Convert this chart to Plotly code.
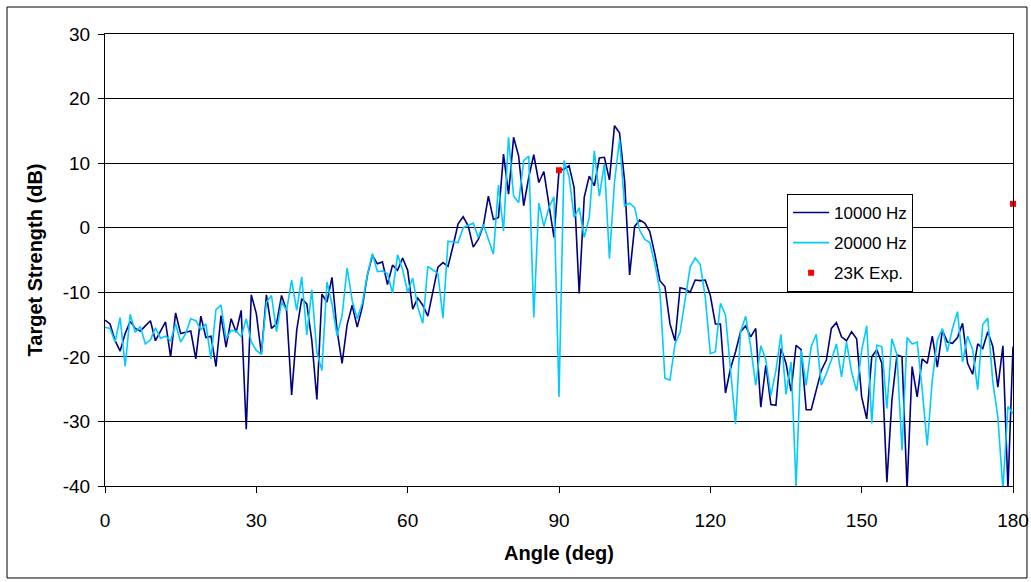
import plotly.graph_objects as go

angles = list(range(0, 181))

ts_10000 = [
    -14.3, -14.9, -17.5, -19.1, -16.4, -14.5, -15.6, -16.0, -15.2, -14.4,
    -17.5, -16.0, -14.6, -20.0, -13.2, -16.4, -16.2, -16.0, -20.3, -13.7,
    -17.0, -16.8, -21.5, -13.6, -18.5, -14.1, -16.2, -12.8, -31.2, -10.4,
    -13.3, -19.6, -10.4, -15.6, -14.9, -10.5, -12.8, -25.9, -15.9, -11.0,
    -11.8, -17.5, -26.6, -10.3, -11.5, -7.7, -15.9, -21.0, -15.0, -12.0,
    -15.4, -12.3, -7.4, -4.3, -5.6, -5.3, -8.8, -5.8, -6.6, -4.7,
    -6.6, -12.6, -10.9, -12.0, -13.7, -10.0, -6.1, -5.4, -6.0, -2.8,
    0.6, 1.7, 0.3, -3.0, -1.8, 0.3, 4.9, 1.3, 1.6, 11.4,
    5.2, 14.0, 11.1, 3.4, 7.8, 11.3, 7.0, 8.7, 3.9, -1.5,
    8.8, 9.1, 9.6, 6.2, -10.2, 4.7, 8.0, 6.5, 10.8, 10.9,
    7.4, 15.8, 14.7, 7.3, -7.3, 0.2, 1.2, 0.7, -0.6, -4.1,
    -8.2, -9.1, -14.9, -17.5, -9.3, -9.5, -10.0, -8.1, -8.2, -8.1,
    -10.5, -14.9, -14.9, -25.6, -21.8, -19.2, -16.1, -15.2, -16.9, -15.6,
    -27.8, -21.3, -27.4, -27.5, -18.7, -21.0, -25.3, -18.2, -18.9, -28.2,
    -28.2, -24.9, -22.1, -20.5, -15.6, -14.7, -16.9, -17.5, -16.1, -17.2,
    -26.2, -29.6, -20.0, -18.9, -21.0, -39.4, -26.7, -19.7, -20.0, -40.5,
    -21.5, -26.2, -20.3, -21.0, -16.8, -21.6, -15.9, -17.7, -17.9, -17.0,
    -14.8, -21.0, -22.7, -18.0, -18.7, -16.1, -18.4, -24.7, -18.3, -40.5,
    -18.4,
]

ts_20000 = [
    -15.4, -15.6, -17.7, -13.9, -21.5, -13.4, -16.2, -15.3, -18.0, -17.4,
    -15.5, -17.1, -16.8, -17.5, -14.9, -17.7, -16.4, -14.1, -14.4, -15.8,
    -14.9, -20.3, -12.7, -12.0, -17.2, -15.9, -16.0, -16.9, -14.1, -17.7,
    -19.0, -19.6, -11.5, -10.5, -16.1, -11.5, -12.8, -8.1, -12.8, -7.6,
    -16.6, -9.6, -19.3, -22.1, -8.4, -11.8, -16.7, -13.6, -6.2, -11.3,
    -14.1, -11.7, -7.4, -4.0, -6.8, -6.7, -7.1, -10.1, -4.2, -6.5,
    -10.0, -7.8, -12.3, -14.8, -6.0, -6.5, -7.1, -14.0, -2.1, -2.2,
    -2.3, 0.0, 0.3, 0.7, -1.5, 0.5, -1.8, -4.1, 6.6, -0.5,
    14.0, 4.9, 3.9, 10.4, 11.1, -13.9, 3.8, 0.2, 3.1, 4.8,
    -26.2, 10.4, 7.9, 1.6, 3.1, -1.5, 1.6, 11.9, 4.9, 9.9,
    -4.8, 7.0, 13.7, 3.4, 3.8, 3.1, -0.4, -1.8, -2.3, -5.6,
    -9.7, -23.3, -23.6, -18.0, -16.2, -11.3, -6.1, -4.7, -5.7, -10.8,
    -19.5, -19.2, -11.7, -13.5, -22.0, -30.4, -16.1, -13.7, -18.4, -24.4,
    -18.3, -20.4, -26.0, -22.1, -16.5, -25.8, -20.8, -40.0, -19.0, -24.4,
    -18.4, -16.5, -24.4, -22.6, -20.5, -18.0, -23.1, -17.7, -22.3, -25.3,
    -19.0, -15.2, -30.3, -18.2, -18.4, -28.0, -17.2, -19.7, -34.5, -17.0,
    -18.0, -17.7, -25.0, -33.7, -23.6, -17.4, -15.6, -19.2, -15.6, -13.0,
    -20.8, -16.8, -18.9, -25.1, -15.0, -14.0, -23.9, -29.3, -40.5, -27.7,
    -28.8,
]

exp_angles = [90, 180]
exp_23k = [8.9, 3.7]

y_ticks = [-40, -30, -20, -10, 0, 10, 20, 30]
x_ticks = [0, 30, 60, 90, 120, 150, 180]

FONT = "Liberation Sans, Arial, sans-serif"

fig = go.Figure()
fig.add_trace(go.Scatter(x=angles, y=ts_10000, mode="lines", name="10000 Hz",
                         legendgroup="a",
                         line=dict(color="#000080", width=1.6)))
fig.add_trace(go.Scatter(x=angles, y=ts_20000, mode="lines", name="20000 Hz",
                         legendgroup="b",
                         line=dict(color="#00CCFF", width=1.6)))
fig.add_trace(go.Scatter(x=exp_angles, y=exp_23k, mode="markers", name="23K Exp.",
                         legendgroup="c",
                         marker=dict(color="#FF0000", symbol="square", size=6),
                         cliponaxis=False))

fig.update_layout(
    width=1031, height=582,
    margin=dict(l=105, r=18, t=34, b=96, autoexpand=False),
    paper_bgcolor="white", plot_bgcolor="white",
    font=dict(family=FONT, size=19, color="black"),
    showlegend=True,
    legend=dict(x=0.7512, y=0.646, xanchor="left", yanchor="top",
                bordercolor="black", borderwidth=1, bgcolor="white",
                font=dict(family=FONT, size=17, color="black"),
                tracegroupgap=5, itemwidth=36),
    xaxis=dict(range=[0, 180], tickvals=x_ticks, ticktext=[str(v) for v in x_ticks],
               showgrid=False, zeroline=False, showline=True, linecolor="black",
               linewidth=1, mirror=True, ticks="outside", ticklen=6,
               tickcolor="black", ticklabelstandoff=11, automargin=False,
               tickfont=dict(family=FONT, size=19),
               title=dict(text="<b>Angle (deg)</b>", standoff=16,
                          font=dict(family=FONT, size=20))),
    yaxis=dict(range=[-40, 30], tickvals=y_ticks, ticktext=[str(v) for v in y_ticks],
               showgrid=True, gridcolor="black", gridwidth=1, zeroline=False,
               showline=True, linecolor="black", linewidth=1, mirror=True,
               ticks="outside", ticklen=6, tickcolor="black",
               ticklabelstandoff=4, automargin=False,
               tickfont=dict(family=FONT, size=19),
               title=dict(text="<b>Target Strength (dB)</b>", standoff=14,
                          font=dict(family=FONT, size=20))),
    shapes=[dict(type="rect", xref="paper", yref="paper",
                 x0=-0.1079, x1=1.0154, y0=-0.2035, y1=1.0597,
                 line=dict(color="black", width=1), fillcolor="rgba(0,0,0,0)",
                 layer="below")],
)

fig.write_html("out.html", config={"displayModeBar": False},
               post_script="document.body.style.margin='0';")
